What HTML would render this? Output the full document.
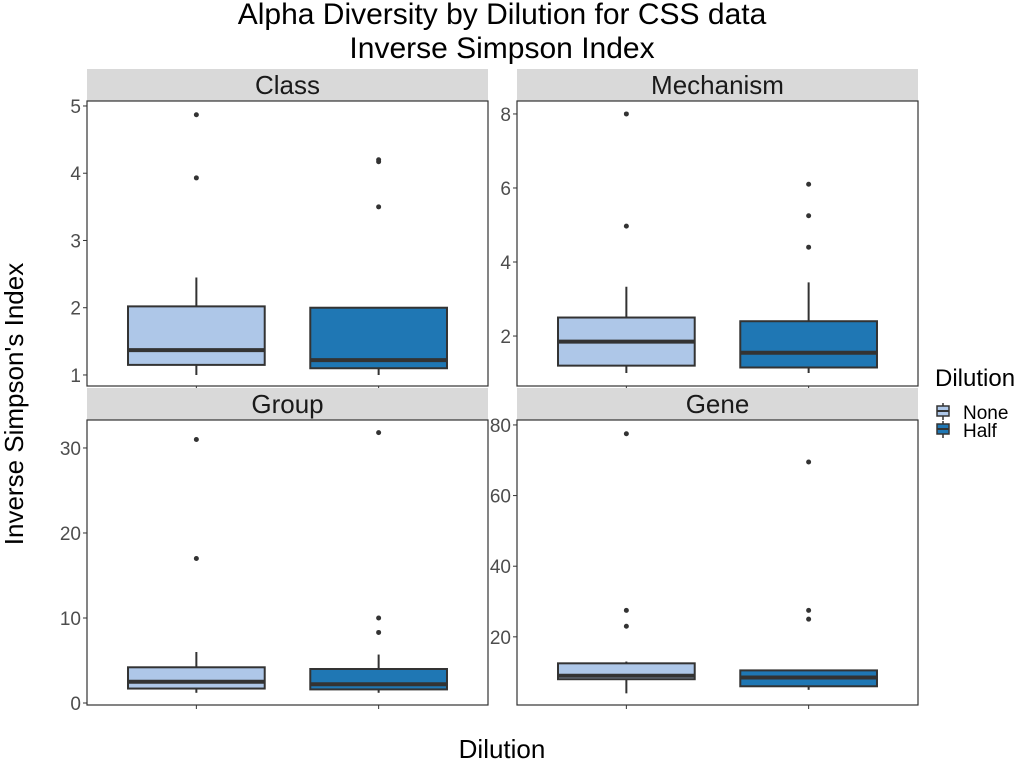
<!DOCTYPE html>
<html><head><meta charset="utf-8"><style>
body{margin:0;background:#fff;font-family:"Liberation Sans",sans-serif}
svg text{font-family:"Liberation Sans",sans-serif}
</style></head><body>
<svg id="c" width="1024" height="768">
<text x="502" y="24" font-size="30" text-anchor="middle">Alpha Diversity by Dilution for CSS data</text>
<text x="502" y="58" font-size="30" text-anchor="middle">Inverse Simpson Index</text>
<text transform="translate(23,404) rotate(-90)" font-size="26" text-anchor="middle">Inverse Simpson's Index</text>
<text x="502" y="758" font-size="26" text-anchor="middle">Dilution</text>
<g>
<text x="935" y="386" font-size="24">Dilution</text>
<g><line x1="943" y1="403" x2="943" y2="420" stroke="#333" stroke-width="1.5"/><rect x="937" y="406" width="12" height="10" fill="#aec7e8" stroke="#333" stroke-width="1.5"/><line x1="937" y1="411" x2="949" y2="411" stroke="#333" stroke-width="2"/><text x="963" y="419" font-size="19">None</text></g>
<g><line x1="943" y1="421" x2="943" y2="438" stroke="#333" stroke-width="1.5"/><rect x="937" y="424" width="12" height="10" fill="#1f77b4" stroke="#333" stroke-width="1.5"/><line x1="937" y1="429" x2="949" y2="429" stroke="#333" stroke-width="2"/><text x="963" y="437" font-size="19">Half</text></g>
</g>
<g id="panels"></g>
</svg>
<script>
const categories=["None","Half"];
const panelNames=["Class","Mechanism","Group","Gene"];
const classStats=[[1.0,1.15,1.37,2.02,2.45],[1.0,1.1,1.22,2.0,2.0]];
const classOut=[[4.87,3.93],[4.2,4.17,3.5]];
const mechStats=[[1.0,1.2,1.85,2.5,3.33],[1.0,1.15,1.55,2.4,3.45]];
const mechOut=[[8.0,4.97],[6.1,5.25,4.4]];
const groupStats=[[1.2,1.7,2.5,4.2,6.0],[1.2,1.6,2.2,4.0,5.7]];
const groupOut=[[31,17],[31.8,10,8.3]];
const geneStats=[[4,8,9,12.5,13],[5,6,8.5,10.5,10.5]];
const geneOut=[[77.5,27.5,23],[69.5,27.5,25]];
const classTicks=[1,2,3,4,5],mechTicks=[2,4,6,8],groupTicks=[0,10,20,30],geneTicks=[20,40,60,80];
const colors=["#aec7e8","#1f77b4"];
const NS="http://www.w3.org/2000/svg";
const root=document.getElementById("panels");
function mk(tag,attrs,parent){const e=document.createElementNS(NS,tag);for(const k in attrs)e.setAttribute(k,attrs[k]);parent.appendChild(e);return e;}
const panels=[
 {x:87,y:101,stats:classStats,out:classOut,ticks:classTicks,dom:[0.836,5.074]},
 {x:517,y:101,stats:mechStats,out:mechOut,ticks:mechTicks,dom:[0.65,8.35]},
 {x:87,y:420,stats:groupStats,out:groupOut,ticks:groupTicks,dom:[-0.235,33.29]},
 {x:517,y:420,stats:geneStats,out:geneOut,ticks:geneTicks,dom:[0.7,81.4]}];
const W=401,H=285;
panels.forEach((p,i)=>{
 const g=mk("g",{},root);
 
 
 const strip=mk("rect",{x:p.x,y:p.y-32,width:W,height:32,fill:"#d9d9d9"},g);
 
 
 const st=mk("text",{x:p.x+W/2,y:p.y-7,"font-size":26,"text-anchor":"middle",fill:"#1a1a1a"},g);st.textContent=panelNames[i];
 
 
 const ys=v=>p.y+H-(v-p.dom[0])/(p.dom[1]-p.dom[0])*H;
 const xs=k=>p.x+W*(k+1-0.4)/2.2;
 const bw=W*0.75/2.2;
 p.ticks.forEach(t=>{
  mk("line",{x1:p.x-4,x2:p.x,y1:ys(t),y2:ys(t),stroke:"#333"},g);
  const tx=mk("text",{x:p.x-6,y:ys(t)+7,"font-size":19,"text-anchor":"end",fill:"#4d4d4d"},g);tx.textContent=t;
  
  
 });
 categories.forEach((c,k)=>{
  const s=p.stats[k],cx=xs(k);
  mk("line",{x1:cx,x2:cx,y1:p.y+H,y2:p.y+H+4,stroke:"#333"},g);
  const b=mk("g",{},g);
  
  
  mk("line",{x1:cx,x2:cx,y1:ys(s[0]),y2:ys(s[4]),stroke:"#333","stroke-width":2},b);
  mk("rect",{x:cx-bw/2,y:ys(s[3]),width:bw,height:ys(s[1])-ys(s[3]),fill:colors[k],stroke:"#333","stroke-width":2},b);
  mk("line",{x1:cx-bw/2,x2:cx+bw/2,y1:ys(s[2]),y2:ys(s[2]),stroke:"#333","stroke-width":4},b);
  p.out[k].forEach(v=>{
   const o=mk("circle",{cx:cx,cy:ys(v),r:2.5,fill:"#333"},g);
   
   
  });
 });
 mk("rect",{x:p.x,y:p.y,width:W,height:H,fill:"none",stroke:"#333","stroke-width":1.2},g);
});
</script>
</body></html>
